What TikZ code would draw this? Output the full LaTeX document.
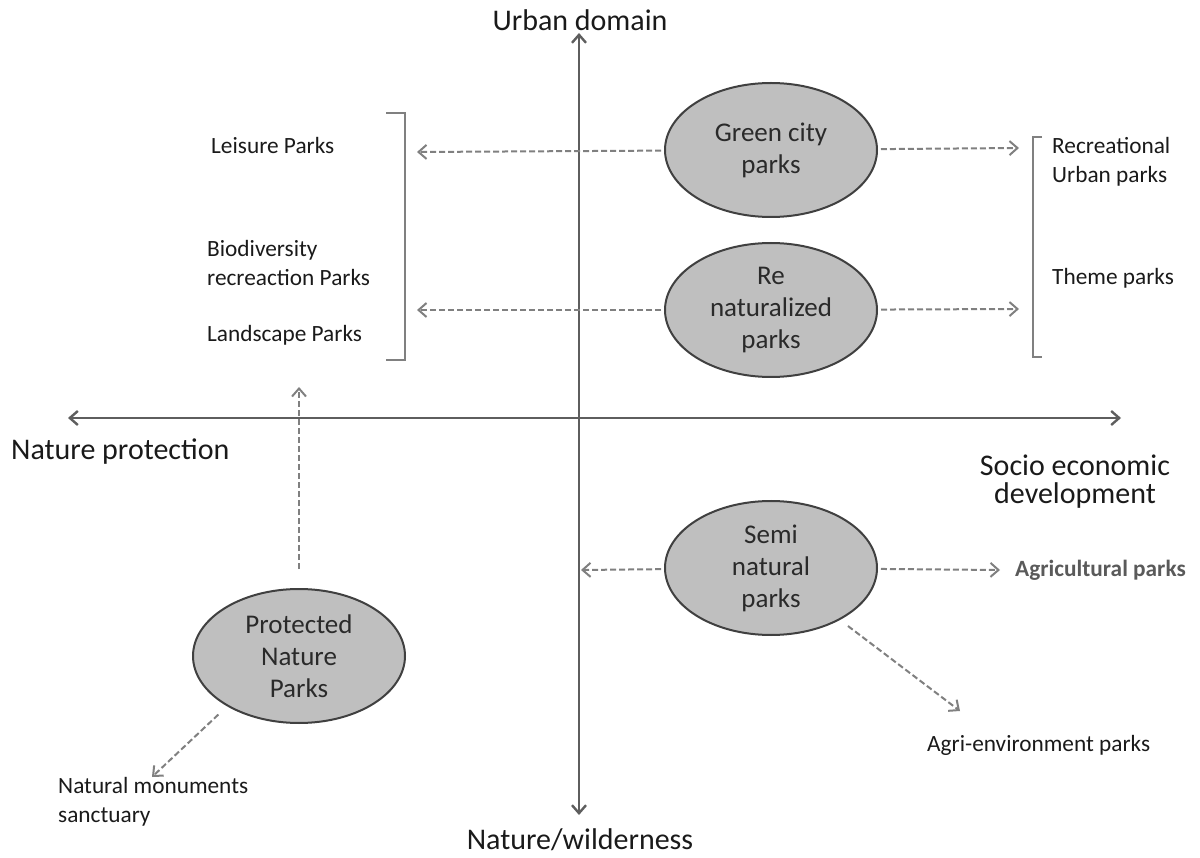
\documentclass[tikz,border=0pt]{standalone}
\usepackage{fontspec}
\setmainfont{Carlito}
\usetikzlibrary{arrows.meta,shapes.geometric}
\definecolor{axisgray}{HTML}{5E5E5E}
\definecolor{dashgray}{HTML}{808080}
\definecolor{rimgray}{HTML}{404040}
\definecolor{parkgray}{HTML}{BFBFBF}
\definecolor{inkgray}{HTML}{2A2A2A}
\definecolor{inkblack}{HTML}{1A1A1A}
\definecolor{agrigray}{HTML}{5A5A5A}
\begin{document}
\begin{tikzpicture}
[x=1pt,y=-1pt,
  >={Straight Barb[length=8pt,width=14pt]},
  axisDecorate/.style={<->,line width=2.4pt,draw=axisgray},%
  dashDecorate/.style={->,line width=2pt,draw=dashgray,dash pattern=on 6pt off 3pt},
  parkDecorate/.style={shape=ellipse,draw=rimgray,line width=2pt,fill=parkgray,
    minimum width=212pt,minimum height=134pt,inner sep=0pt,align=center,
    font=\fontsize{27}{32}\selectfont,text=inkgray},
  labelDecorate/.style={anchor=west,inner sep=0pt,align=left,
    font=\fontsize{23.3}{28.5}\selectfont,text=inkblack},
  axisLabel/.style={inner sep=0pt,align=center,font=\fontsize{30}{28}\selectfont,text=inkblack},
  bracketDecorate/.style={line width=2pt,draw=dashgray}]
\useasboundingbox (0,0) rectangle (1200,858);
%% axes
\coordinate (top) at (579,33);
\coordinate (bottom) at (579,815);
\coordinate (left) at (68,418);
\coordinate (right) at (1121,418);
\draw[axisDecorate] (left) -- (right);
\draw[axisDecorate] (top) -- (bottom);
\node[axisLabel] (urban) at (580,20) {Urban domain};
\node[axisLabel] (wild) at (580,840) {Nature/wilderness};
\node[axisLabel,anchor=west] (protect) at (11,452) {Nature protection};
\node[axisLabel] (socio) at (1075,482) {Socio economic\\development};
%% parks
\foreach \nodename/\x/\y/\txt in {
  green/771/150/{Green city\\parks}, renat/771/310/{Re\\naturalized\\parks},
  semi/771/568/{Semi\\natural\\parks}, protected/299/656/{Protected\\Nature\\Parks}}
{
  \node (\nodename) at (\x,\y) [parkDecorate] {\txt};
}
%% park types
\foreach \nodename/\x/\y/\txt in {
  leisure/211/145/{Leisure Parks}, biodiv/207/263/{Biodiversity\\recreaction Parks},
  landscape/207/335/{Landscape Parks}, recreational/1052/162/{Recreational\\Urban parks},
  theme/1052/278/{Theme parks}, agrienv/927/745/{Agri-environment parks},
  monuments/58/802/{Natural monuments\\sanctuary}}
{
  \node (\nodename) at (\x,\y) [labelDecorate] {\txt};
}
\node (agri) at (1015,570) [labelDecorate,font=\fontsize{23.3}{28.5}\selectfont\bfseries,text=agrigray] {Agricultural parks};
%% brackets
\draw[bracketDecorate] (386,113) -- (405,113) -- (405,360) -- (386,360);
\draw[bracketDecorate] (1042,137) -- (1033,137) -- (1033,357) -- (1042,357);
%% arrow ends
\foreach \nodename/\x/\y in {
  greenL/417/152, greenR/1019/148, renatL/417/310, renatR/1019/309,
  semiL/581/570, semiR/1000/570, semiD/960/711, protectedU/299/387, protectedD/152/777}
{
  \coordinate (\nodename) at (\x,\y);
}
\path
\foreach \startnode/\endnode in {
  green/greenL, green/greenR, renat/renatL, renat/renatR, semi/semiL, semi/semiR}
{
  (\startnode) edge[dashDecorate,shorten <=3pt] (\endnode)
};
\draw[dashDecorate,shorten <=10pt] (semi.-37) -- (semiD);
\draw[dashDecorate,shorten <=19pt] (protected.north) -- (protectedU);
\draw[dashDecorate,shorten <=12pt] (protected.215) -- (protectedD);
\end{tikzpicture}
\end{document}
